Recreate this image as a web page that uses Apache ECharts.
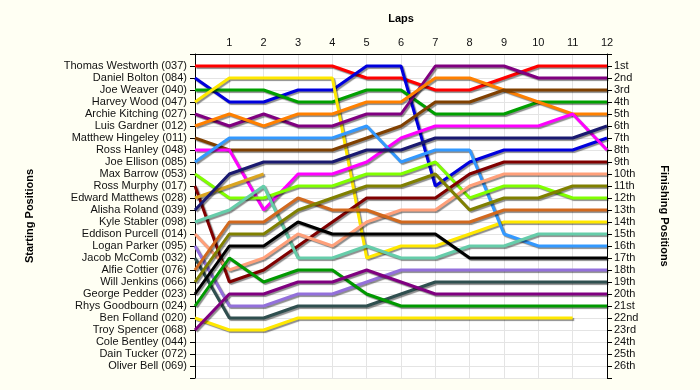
<!DOCTYPE html>
<html>
<head>
<meta charset="utf-8">
<script src="https://cdn.jsdelivr.net/npm/echarts@6/dist/echarts.min.js"></script>
<style>
html,body{margin:0;padding:0;background:#FFFFF3;}
#c{width:700px;height:390px;}
</style>
</head>
<body>
<div id="c"></div>
<script>
const laps = [0,1,2,3,4,5,6,7,8,9,10,11,12];
const lapLabels = ['','1','2','3','4','5','6','7','8','9','10','11','12'];
const drivers = ['Thomas Westworth (037)','Daniel Bolton (084)','Joe Weaver (040)','Harvey Wood (047)','Archie Kitching (027)','Luis Gardner (012)','Matthew Hingeley (011)','Ross Hanley (048)','Joe Ellison (085)','Max Barrow (053)','Ross Murphy (017)','Edward Matthews (028)','Alisha Roland (039)','Kyle Stabler (098)','Eddison Purcell (014)','Logan Parker (095)','Jacob McComb (032)','Alfie Cottier (076)','Will Jenkins (066)','George Pedder (023)','Rhys Goodbourn (024)','Ben Folland (020)','Troy Spencer (068)','Cole Bentley (044)','Dain Tucker (072)','Oliver Bell (069)'];
const finishLabels = ['1st','2nd','3rd','4th','5th','6th','7th','8th','9th','10th','11th','12th','13th','14th','15th','16th','17th','18th','19th','20th','21st','22nd','23rd','24th','25th','26th'];

// positions per lap (lap 0 .. lap 12)
const westworth = [1,1,1,1,1,2,2,3,3,2,1,1,1];
const bolton    = [2,4,4,3,3,1,1,11,9,8,8,8,7];
const weaver    = [3,3,3,4,4,3,3,5,5,5,4,4,4];
const wood      = [4,2,2,2,2,17,16,16,15,14,14,14,14];
const kitching  = [5,6,5,6,6,5,5,1,1,1,2,2,2];
const gardner   = [6,5,6,5,5,4,4,2,2,3,4,5,5];
const hingeley  = [7,8,8,8,8,7,6,4,4,3,3,3,3];
const hanley    = [8,8,13,10,10,9,7,6,6,6,6,5,8];
const ellison   = [9,7,7,7,7,6,9,8,8,15,16,16,16];
const barrow    = [10,12,12,11,11,10,10,9,12,11,11,12,12];
const murphy    = [11,19,18,16,14,12,12,12,10,9,9,9,9];
const matthews  = [12,11,10];
const roland    = [13,10,9,9,9,8,8,7,7,7,7,7,6];
const stabler   = [14,13,11,17,17,16,17,17,16,16,15,15,15];
const purcell   = [15,18,17,15,16,14,13,13,11,10,10,10,10];
const parker    = [16,21,21,20,20,19,18,18,18,18,18,18,18];
const mccomb    = [17,22,22,21,21,21,20,19,19,19,19,19,19];
const cottier   = [18,14,14,12,13,13,14,14,14,13,13,13,13];
const jenkins   = [19,15,15,13,12,11,11,10,13,12,12,11,11];
const pedder    = [20,16,16,14,15,15,15,15,17,17,17,17,17];
const goodbourn = [21,17,19,18,18,20,21,21,21,21,21,21,21];
const folland   = [22,23,23,22,22,22,22,22,22,22,22,22];
const spencer   = [23,20,20,19,19,18,19,20,20,20,20,20,20];

const seriesDefs = [
  [drivers[0], westworth, '#FF0000'],
  [drivers[1], bolton, '#0000DD'],
  [drivers[2], weaver, '#00A000'],
  [drivers[3], wood, '#FFE800'],
  [drivers[4], kitching, '#800080'],
  [drivers[5], gardner, '#FF8000'],
  [drivers[6], hingeley, '#804000'],
  [drivers[7], hanley, '#FF00FF'],
  [drivers[8], ellison, '#3399FF'],
  [drivers[9], barrow, '#80FF00'],
  [drivers[10], murphy, '#800000'],
  [drivers[11], matthews, '#DAA520'],
  [drivers[12], roland, '#191970'],
  [drivers[13], stabler, '#66CDAA'],
  [drivers[14], purcell, '#FFA07A'],
  [drivers[15], parker, '#9370DB'],
  [drivers[16], mccomb, '#2F4F4F'],
  [drivers[17], cottier, '#D2691E'],
  [drivers[18], jenkins, '#808000'],
  [drivers[19], pedder, '#000000'],
  [drivers[20], goodbourn, '#009900'],
  [drivers[21], folland, '#FFE800'],
  [drivers[22], spencer, '#800080']
];

const chart = echarts.init(document.getElementById('c'), null, {renderer:'canvas'});
const txt = {color:'#111', fontFamily:'Liberation Sans, Arial, sans-serif', fontSize:11};
const nameTxt = {color:'#000', fontFamily:'Liberation Sans, Arial, sans-serif', fontSize:11, fontWeight:'bold'};

const yBase = {
  type:'value', min:0, max:27, interval:1, inverse:true,
  axisLine:{show:true, lineStyle:{color:'#000', width:1}},
  axisTick:{show:true, length:5, lineStyle:{color:'#000'}},
  splitLine:{show:true, lineStyle:{color:'#E4E4E4', width:1}},
  nameLocation:'middle', nameTextStyle:nameTxt
};

chart.setOption({
  animation:false,
  backgroundColor:'#FFFFF3',
  grid:{left:195, right:93, top:54, bottom:12, show:true, backgroundColor:'#FFFFFF', borderWidth:0},
  xAxis:{
    type:'value', position:'top', min:0, max:12, interval:1,
    name:'Laps', nameLocation:'middle', nameGap:30, nameTextStyle:nameTxt,
    axisLine:{show:true, lineStyle:{color:'#000'}},
    axisTick:{show:false},
    axisLabel:Object.assign({margin:6, formatter:(v)=>lapLabels[v]||''}, txt),
    splitLine:{show:true, lineStyle:{color:'#E4E4E4', width:1}}
  },
  yAxis:[
    Object.assign({}, yBase, {
      position:'left', name:'Starting Positions', nameGap:160, nameRotate:90,
      axisLabel:Object.assign({margin:8, formatter:(v)=>drivers[v-1]||''}, txt)
    }),
    Object.assign({}, yBase, {
      position:'right', name:'Finishing Positions', nameGap:52, nameRotate:-90,
      splitLine:{show:false},
      axisLabel:Object.assign({margin:7, formatter:(v)=>finishLabels[v-1]||''}, txt)
    })
  ],
  series: seriesDefs.map(([name, pos, color]) => ({
    name:name, type:'line', yAxisIndex:0, symbol:'none',
    data: pos.map((p,i)=>[laps[i], p]),
    lineStyle:{color:color, width:3, shadowColor:'rgba(0,0,0,0.45)', shadowOffsetX:1.5, shadowOffsetY:1.5, shadowBlur:1},
    itemStyle:{color:color},
    emphasis:{disabled:true}
  }))
});
</script>
</body>
</html>
